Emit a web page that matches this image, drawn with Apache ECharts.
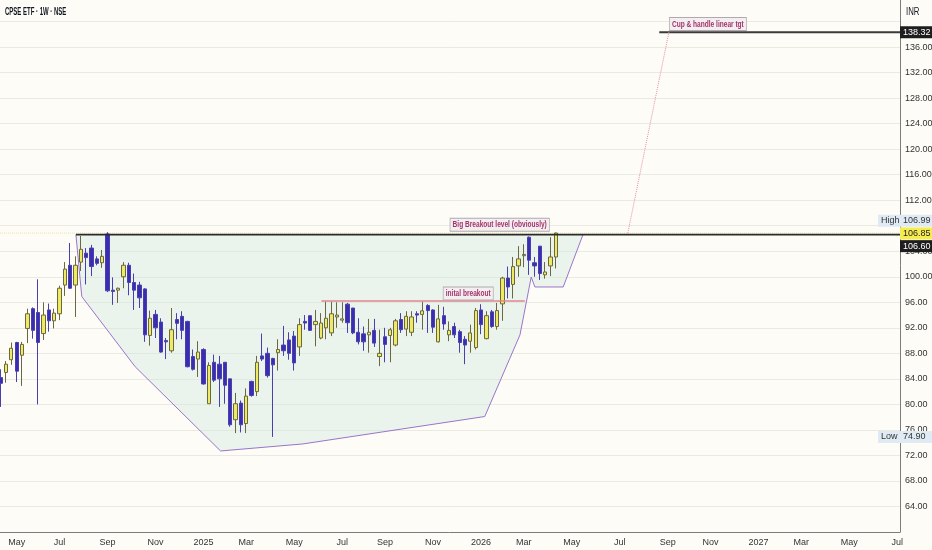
<!DOCTYPE html>
<html>
<head>
<meta charset="utf-8">
<script src="https://cdn.jsdelivr.net/npm/echarts@6/dist/echarts.min.js"></script>
<style>
html,body{margin:0;padding:0;background:#fdfcf7;overflow:hidden;}
#c{width:932px;height:550px;}
</style>
</head>
<body>
<div id="c"></div>
<script>
// ---- data ----
const chartTitle = 'CPSE ETF · 1W · NSE';
const currency = 'INR';
const startWeek = '2024-04-15';
const weekCount = 169;
// weekly candles
const opens  = [84.2,85.0,87.0,89.7,87.7,91.9,95.0,94.4,91.1,94.8,93.1,94.2,98.7,101.8,98.7,102.3,103.7,104.5,102.8,102.2,
                106.7,97.9,97.9,100.0,101.8,99.1,98.7,98.1,90.8,94.1,92.9,90.0,88.4,93.3,93.8,93.0,87.5,87.1,88.6,80.1,
                86.6,86.3,86.6,84.0,77.6,80.2,77.0,83.6,82.0,87.6,88.0,87.2,88.1,89.3,90.1,90.7,89.0,93.0,93.9,92.5,
                90.4,92.0,91.2,93.7,93.2,95.7,95.1,91.3,91.05,90.9,91.6,87.5,90.6,90.8,89.3,93.3,91.8,91.3,94.2,94.1,
                95.5,94.8,89.8,93.9,90.9,92.2,91.4,90.2,89.9,88.9,94.8,90.3,94.5,92.2,95.75,99.8,98.8,101.7,103.3,106.2,
                102.2,104.8,100.3,101.7,103.1];
const closes = [83.3,86.3,88.8,85.2,89.4,94.2,91.6,89.7,94.0,93.1,94.3,98.2,101.2,98.2,101.8,104.3,103.0,101.6,102.1,103.2,
                97.8,97.7,98.2,101.8,99.1,97.9,96.7,90.9,93.5,92.0,88.2,89.8,91.7,92.7,91.6,85.9,85.5,88.2,83.2,86.1,
                83.8,84.0,83.0,76.8,80.1,76.8,81.3,81.4,86.6,87.1,84.5,86.2,88.6,88.4,88.0,86.5,92.5,92.75,91.6,93.0,
                92.75,93.5,94.2,94.0,93.4,92.8,91.2,89.8,89.8,91.3,89.6,88.0,89.4,91.7,93.1,91.7,93.8,93.7,94.0,94.66,
                94.7,92.1,93.4,92.6,91.6,90.9,89.7,89.3,91.2,94.7,92.5,93.9,92.2,94.7,99.8,98.4,101.6,102.8,103.5,102.6,
                101.7,100.5,100.75,103.1,106.85];
const lows   = [79.6,83.4,86.2,83.5,82.9,89.6,90.3,80.0,90.1,91.4,91.9,93.2,97.0,98.1,93.7,100.9,98.8,100.1,101.8,101.4,
                97.6,95.6,95.9,98.2,97.1,94.8,95.1,89.8,89.2,90.4,88.1,87.1,88.1,90.2,90.2,85.8,85.3,84.3,83.1,80.1,
                83.5,79.6,80.1,76.5,75.5,75.6,75.5,81.2,81.3,86.8,84.2,74.9,85.3,87.6,87.0,85.3,87.6,91.7,91.5,89.1,
                90.2,90.2,90.7,92.0,92.8,91.2,91.0,89.4,88.4,88.1,89.0,86.0,86.6,86.6,89.1,91.2,90.7,90.7,92.8,91.7,
                91.2,91.2,89.7,91.7,89.9,90.4,88.1,86.3,88.1,88.6,91.0,90.2,92.0,91.7,93.1,96.6,96.6,100.0,101.5,100.3,
                100.0,99.5,99.7,100.1,101.3];
const highs  = [85.5,86.8,89.7,89.8,89.8,95.0,95.2,99.6,96.0,95.8,95.0,98.6,102.3,105.3,103.2,106.4,104.5,105.0,103.2,104.2,
                106.99,99.9,98.3,102.3,102.2,100.5,99.2,98.2,94.7,94.8,93.5,90.4,95.1,94.3,94.6,93.1,88.6,89.9,88.8,86.6,
                87.8,87.6,86.6,84.0,81.8,80.6,82.5,83.7,87.6,91.1,88.9,87.3,90.2,92.3,91.3,91.5,93.5,94.0,93.9,94.8,
                94.3,96.1,96.1,96.0,96.0,95.9,95.1,93.5,92.2,93.4,93.4,91.7,92.0,92.0,93.4,94.3,94.6,94.6,94.6,96.1,
                95.7,94.9,95.6,95.3,93.0,92.8,91.7,90.7,92.5,95.1,95.7,94.6,94.8,95.9,100.0,101.6,103.1,104.8,105.1,106.3,
                103.1,104.8,102.3,106.2,106.95];

// cup & handle outline (week index, price)
const cupX = [14.1, 15.2, 25.2, 41.2, 56.6, 90.7, 97.3, 99.4, 100.1, 105.4, 109.1];
const cupY = [106.6, 96.9, 85.9, 72.7, 73.8, 78.1, 90.9, 99.95, 98.4, 98.4, 106.6];

// levels
const breakoutLevel = 106.60;
const breakoutFrom = 14.1;
const initialLevel = 96.2;
const initialFrom = 60.1, initialTo = 98.2;
const targetLevel = 138.32;
const targetFrom = 123.4;
const projX = [117.5, 125.2];
const projY = [106.85, 138.32];
const lastPrice = 106.85;
const highPrice = 106.99;
const lowPrice = 74.90;

// annotation texts (week index, price anchor)
const notes = [
  {text: 'Big Breakout level (obviously)', x: 93.5, y: 108.14},
  {text: 'inital breakout', x: 87.6, y: 97.37},
  {text: 'Cup & handle linear tgt', x: 132.5, y: 139.6}
];

const monthNames = ['Jan','Feb','Mar','Apr','May','Jun','Jul','Aug','Sep','Oct','Nov','Dec'];

// ---- build ----
const weeks = [];
{
  const d0 = new Date(startWeek + 'T00:00:00Z');
  for (let i = 0; i < weekCount; i++) {
    const d = new Date(d0.getTime() + i * 7 * 86400000);
    weeks.push(d.toISOString().slice(0, 10));
  }
}
const labelAt = {};
for (let i = 0; i < weeks.length; i++) {
  const m = +weeks[i].slice(5, 7);
  const prevM = i > 0 ? +weeks[i - 1].slice(5, 7) : -1;
  if (m !== prevM && m % 2 === 1 && i > 0) {
    labelAt[i] = m === 1 ? weeks[i].slice(0, 4) : monthNames[m - 1];
  }
}
const candles = opens.map((o, i) => [o, closes[i], lows[i], highs[i]]);

const FONT = "'Liberation Sans', Arial, sans-serif";

const chart = echarts.init(document.getElementById('c'), null, {renderer: 'canvas'});
const option = {
  animation: false,
  backgroundColor: '#fdfcf7',
  grid: {left: -2, right: 32, top: -4, bottom: 18, containLabel: false, outerBoundsMode: 'none'},
  xAxis: [
    {type: 'category', data: weeks, boundaryGap: true,
     axisLine: {show: true, onZero: false, lineStyle: {color: '#7c7c7c'}},
     axisTick: {show: false},
     splitLine: {show: false},
     axisLabel: {
       interval: (idx) => labelAt[idx] !== undefined,
       formatter: (v, idx) => labelAt[idx] || '',
       color: '#333', fontSize: 9, fontFamily: FONT, margin: 6, hideOverlap: false
     }},
    {type: 'value', min: -0.5, max: weekCount - 0.5, show: false}
  ],
  yAxis: [{
    type: 'value', position: 'right', min: 60, max: 144, interval: 4,
    axisLine: {show: true, onZero: false, lineStyle: {color: '#7c7c7c'}},
    axisTick: {show: false},
    splitLine: {show: true, lineStyle: {color: '#ebeae2', width: 1}},
    axisLabel: {
      margin: 5, color: '#333', fontSize: 9, fontFamily: FONT,
      formatter: (v) => (v === 60 || v === 144 || v === 140 || v === 108) ? '' : v.toFixed(2)
    }
  }],
  series: [
    {
      type: 'custom', xAxisIndex: 1, yAxisIndex: 0, silent: true, z: 1,
      data: [0],
      renderItem: (params, api) => {
        const pts = cupX.map((x, k) => api.coord([x, cupY[k]]));
        return {type: 'group', children: [
          {type: 'polygon', shape: {points: pts}, style: {fill: 'rgba(205,232,218,0.38)'}},
          {type: 'polyline', shape: {points: pts}, style: {stroke: '#9b74c9', lineWidth: 1, fill: null}}
        ]};
      }
    },
    {
      type: 'line', xAxisIndex: 1, silent: true, symbol: 'none', z: 3,
      data: [[-0.5, lastPrice], [weekCount - 0.5, lastPrice]],
      lineStyle: {color: '#e9e2a0', width: 1, type: 'dotted'}
    },
    {
      type: 'candlestick', xAxisIndex: 0, yAxisIndex: 0, z: 4,
      data: candles, barWidth: 3.8,
      itemStyle: {color: '#efe964', color0: '#3b2db2', borderColor: '#6a6840', borderColor0: '#4a3fae', borderWidth: 1}
    },
    {
      type: 'line', xAxisIndex: 1, silent: true, symbol: 'none', z: 5,
      data: [[breakoutFrom, breakoutLevel], [weekCount - 0.5, breakoutLevel]],
      lineStyle: {color: '#2b2b2b', width: 1.6}
    },
    {
      type: 'line', xAxisIndex: 1, silent: true, symbol: 'none', z: 5,
      data: [[initialFrom, initialLevel], [initialTo, initialLevel]],
      lineStyle: {color: '#e3848f', width: 1.3}
    },
    {
      type: 'line', xAxisIndex: 1, silent: true, symbol: 'none', z: 5,
      data: [[targetFrom, targetLevel], [weekCount - 0.5, targetLevel]],
      lineStyle: {color: '#3a3a3a', width: 1.8}
    },
    {
      type: 'line', xAxisIndex: 1, silent: true, symbol: 'none', z: 5,
      data: projX.map((x, k) => [x, projY[k]]),
      lineStyle: {color: '#e8919c', width: 1, type: 'dotted'}
    }
  ]
};
chart.setOption(option);

const gfx = [];
// title and currency (condensed look)
gfx.push({type: 'text', x: 5, y: 12, scaleX: 0.6, z: 100,
  style: {text: chartTitle, fill: '#131722', font: 'bold 10px ' + FONT, textVerticalAlign: 'middle'}});
gfx.push({type: 'text', x: 906, y: 12, scaleX: 0.78, z: 100,
  style: {text: currency, fill: '#131722', font: '10px ' + FONT, textVerticalAlign: 'middle'}});

// drawing notes
notes.forEach(n => {
  const p = chart.convertToPixel({xAxisIndex: 1, yAxisIndex: 0}, [n.x, n.y]);
  gfx.push({type: 'text', x: p[0], y: p[1], scaleX: 0.73, z: 100,
    style: {text: n.text, fill: '#a2336c', font: 'bold 9px ' + FONT,
            textAlign: 'center', textVerticalAlign: 'middle',
            backgroundColor: '#f3eff0', borderColor: '#b1a9af', borderWidth: 1, padding: [2, 3, 1, 3]}});
});

// right price-scale tags
const tags = [
  {price: targetLevel, text: targetLevel.toFixed(2), bg: '#1e1e1e', fg: '#ffffff', dy: 0},
  {price: highPrice, text: highPrice.toFixed(2), bg: '#dfeaf5', fg: '#333333', dy: -11.3, prefix: 'High'},
  {price: lastPrice, text: lastPrice.toFixed(2), bg: '#f7ec4f', fg: '#222222', dy: 0.4},
  {price: breakoutLevel, text: breakoutLevel.toFixed(2), bg: '#1e1e1e', fg: '#ffffff', dy: 11.5},
  {price: lowPrice, text: lowPrice.toFixed(2), bg: '#dfeaf5', fg: '#333333', dy: 0, prefix: 'Low'}
];
tags.forEach(t => {
  const y = chart.convertToPixel({yAxisIndex: 0}, t.price) + t.dy;
  if (t.prefix) {
    gfx.push({type: 'rect', shape: {x: 878, y: y - 6, width: 54, height: 12}, style: {fill: t.bg}, z: 100});
    gfx.push({type: 'text', x: 881, y: y, z: 101,
      style: {text: t.prefix, fill: '#333', font: '9px ' + FONT, textVerticalAlign: 'middle'}});
  } else {
    gfx.push({type: 'rect', shape: {x: 900, y: y - 6, width: 32, height: 12}, style: {fill: t.bg}, z: 100});
  }
  gfx.push({type: 'text', x: 903, y: y, z: 101,
    style: {text: t.text, fill: t.fg, font: '9px ' + FONT, textVerticalAlign: 'middle'}});
});
chart.setOption({graphic: gfx});
</script>
</body>
</html>
